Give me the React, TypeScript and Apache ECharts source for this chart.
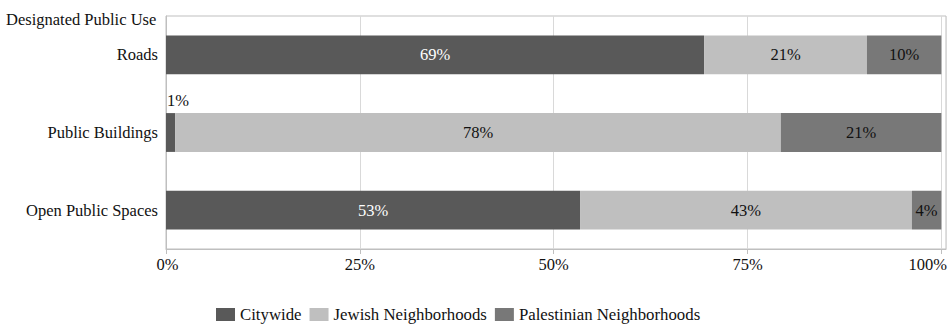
import React, { useEffect, useRef } from "react";
import * as echarts from "echarts";

const categories = ["Roads", "Public Buildings", "Open Public Spaces"];
const seriesNames = ["Citywide", "Jewish Neighborhoods", "Palestinian Neighborhoods"];
const citywide = [69.4, 1.2, 53.4];
const jewish = [21.0, 78.1, 42.8];
const palestinian = [9.6, 20.7, 3.8];
const xTicks = [0, 25, 50, 75, 100];
const colors = ["#595959", "#bfbfbf", "#787878"];
const labelColors = ["#ffffff", "#111111", "#111111"];

const FONT = "Liberation Serif";

export default function App() {
  const ref = useRef<HTMLDivElement>(null);
  useEffect(() => {
    if (!ref.current) return;
    document.body.style.margin = "0";
    document.body.style.overflow = "hidden";
    document.documentElement.style.overflow = "hidden";
    const chart = echarts.init(ref.current, undefined, { renderer: "svg", width: 951, height: 326 });
    const values = [citywide, jewish, palestinian];
    const tickText = { fontFamily: FONT, fontSize: 16.5, color: "#111111" };
    const series = seriesNames.map((name, si) => ({
      name,
      type: "bar",
      stack: "total",
      barWidth: "50%",
      itemStyle: { color: colors[si] },
      label: {
        show: true,
        position: "inside",
        color: labelColors[si],
        fontFamily: FONT,
        fontSize: 16.5,
        formatter: (p: any) => Math.round(p.value) + "%",
      },
      data: values[si].map((v) =>
        v < 3
          ? {
              value: v,
              label: { position: [1, -21], color: "#111111" },
            }
          : v
      ),
    }));
    chart.setOption({
      animation: false,
      textStyle: { fontFamily: FONT },
      title: {
        text: "Designated Public Use",
        left: 6,
        top: 11,
        padding: 0,
        textStyle: { fontFamily: FONT, fontSize: 16.5, fontWeight: "normal", color: "#111111" },
      },
      legend: {
        left: 216,
        top: 306,
        padding: 0,
        itemWidth: 19,
        itemHeight: 13,
        itemGap: 8,
        icon: "rect",
        textStyle: { fontFamily: FONT, fontSize: 16.8, color: "#111111" },
        data: seriesNames,
      },
      grid: {
        left: 166,
        right: 5,
        top: 16,
        bottom: 77,
        show: true,
        borderColor: "#bfbfbf",
        borderWidth: 1,
        containLabel: false,
        outerBoundsMode: "none",
      },
      xAxis: {
        type: "value",
        min: 0,
        max: 100.6,
        interval: 25,
        axisLine: { show: true, lineStyle: { color: "#bfbfbf" } },
        axisTick: { show: true, length: 5, lineStyle: { color: "#bfbfbf" } },
        splitLine: { show: true, lineStyle: { color: "#d9d9d9" } },
        axisLabel: {
          ...tickText,
          margin: 7,
          showMaxLabel: false,
          formatter: (v: number) => {
            if (!xTicks.includes(v)) return "";
            if (v === 0) return "{l|0%}";
            if (v === 100) return "{r|100%}";
            return v + "%";
          },
          rich: {
            l: { ...tickText, padding: [0, 0, 0, 3] },
            r: { ...tickText, padding: [0, 27, 0, 0] },
          },
        },
      },
      yAxis: {
        type: "category",
        inverse: true,
        data: categories,
        axisLine: { show: true, lineStyle: { color: "#bfbfbf" } },
        axisTick: { show: false },
        axisLabel: { color: "#111111", fontFamily: FONT, fontSize: 16.5, margin: 8 },
      },
      series,
    });
    return () => chart.dispose();
  }, []);
  return (
    <div
      ref={ref}
      style={{ position: "absolute", left: 0, top: 0, width: 951, height: 326, background: "#fff" }}
    />
  );
}
